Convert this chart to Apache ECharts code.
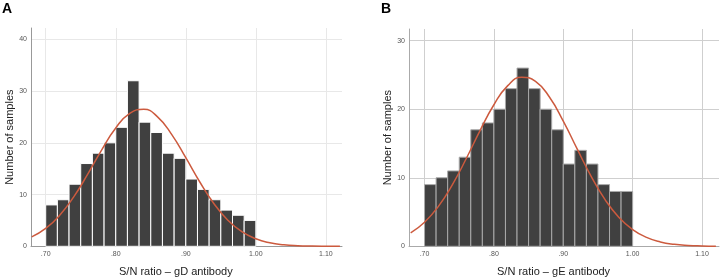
<!DOCTYPE html>
<html>
<head>
<meta charset="utf-8">
<script src="https://cdn.jsdelivr.net/npm/echarts@6/dist/echarts.min.js"></script>
<style>
  html, body { margin: 0; padding: 0; background: #fff; }
  #chart { width: 721px; height: 280px; }
</style>
</head>
<body>
<div id="chart"></div>
<script>
var myChart = echarts.init(document.getElementById('chart'));

// histogram bins: 18 bins from .70 to 1.00
var binStart = 0.70;
var binWidth = 0.30 / 18;
var countsGD = [8, 9, 12, 16, 18, 20, 23, 32, 24, 22, 18, 17, 13, 11, 9, 7, 6, 5];
var countsGE = [9, 10, 11, 13, 17, 18, 20, 23, 26, 23, 20, 17, 12, 14, 12, 9, 8, 8];

// fitted normal curves
var curveX  = [0.68, 0.70, 0.72, 0.74, 0.76, 0.78, 0.80, 0.82, 0.84, 0.86, 0.88, 0.90,
               0.92, 0.94, 0.96, 0.98, 1.00, 1.02, 1.04, 1.06, 1.08, 1.10, 1.12];
var curveGD = [1.82, 3.45, 6.00, 9.56, 13.95, 18.66, 22.88, 25.71, 26.47, 24.98, 21.6, 17.12,
               12.43, 8.27, 5.05, 2.82, 1.45, 0.68, 0.29, 0.11, 0.04, 0.01, 0.0];
var curveGE = [1.97, 3.52, 5.83, 8.97, 12.77, 16.87, 20.65, 23.44, 24.67, 24.07, 21.78, 18.26,
               14.2, 10.24, 6.84, 4.24, 2.44, 1.30, 0.64, 0.29, 0.12, 0.05, 0.02];

var xTickValues = [0.70, 0.80, 0.90, 1.00, 1.10];
var xTickLabels = ['.70', '.80', '.90', '1.00', '1.10'];
var yTicksGD = [0, 10, 20, 30, 40];
var yTicksGE = [0, 10, 20, 30];

function binData(counts) {
    return counts.map(function (c, i) {
        return [binStart + i * binWidth, binStart + (i + 1) * binWidth, c];
    });
}
function curveData(ys) {
    return curveX.map(function (x, i) { return [x, ys[i]]; });
}
function renderBar(borderColor) {
    return function (params, api) {
        var p0 = api.coord([api.value(0), api.value(2)]);
        var p1 = api.coord([api.value(1), 0]);
        return {
            type: 'rect',
            shape: { x: p0[0], y: p0[1], width: p1[0] - p0[0], height: p1[1] - p0[1] },
            style: { fill: '#404040', stroke: borderColor, lineWidth: 1 }
        };
    };
}
function xAxisFor(idx, min, max, gridColor, lineColor) {
    return {
        type: 'value', gridIndex: idx, min: min, max: max,
        axisLine: { lineStyle: { color: lineColor } },
        axisTick: { show: false, customValues: xTickValues },
        axisLabel: {
            customValues: xTickValues, fontSize: 7, color: '#555', margin: 4,
            formatter: function (v) { return xTickLabels[xTickValues.indexOf(Math.round(v * 100) / 100)]; }
        },
        splitLine: { show: true, lineStyle: { color: gridColor, width: 1 } }
    };
}
function yAxisFor(idx, max, ticks, gridColor, lineColor) {
    return {
        type: 'value', gridIndex: idx, min: 0, max: max,
        name: 'Number of samples', nameLocation: 'middle', nameGap: 16,
        nameTextStyle: { fontSize: 11, color: '#222', fontFamily: 'Liberation Sans' },
        axisLine: { show: true, lineStyle: { color: lineColor } },
        axisTick: { show: false, customValues: ticks },
        axisLabel: { customValues: ticks, fontSize: 7, color: '#555', margin: 4 },
        splitLine: { show: true, lineStyle: { color: gridColor, width: 1 } }
    };
}

var option = {
    animation: false,
    textStyle: { fontFamily: 'Liberation Sans' },
    title: [
        { text: 'A', left: 2, top: 2, padding: 0, textStyle: { fontSize: 14, fontWeight: 'bold', color: '#000' } },
        { text: 'B', left: 381, top: 2, padding: 0, textStyle: { fontSize: 14, fontWeight: 'bold', color: '#000' } }
    ],
    grid: [
        { left: 31, top: 28, width: 311, height: 218.3 },
        { left: 409, top: 29, width: 310, height: 217.3 }
    ],
    xAxis: [
        xAxisFor(0, 0.679, 1.123, '#e8e8e8', '#999'),
        xAxisFor(1, 0.6776, 1.1245, '#cfcfcf', '#aaa')
    ],
    yAxis: [
        yAxisFor(0, 42.2, yTicksGD, '#e8e8e8', '#999'),
        yAxisFor(1, 31.7, yTicksGE, '#cfcfcf', '#aaa')
    ],
    graphic: [
        { type: 'text', left: 119, top: 266, style: { text: 'S/N ratio \u2013 gD antibody', fontSize: 11, fill: '#222', fontFamily: 'Liberation Sans' } },
        { type: 'text', left: 497, top: 266, style: { text: 'S/N ratio \u2013 gE antibody', fontSize: 11, fill: '#222', fontFamily: 'Liberation Sans' } }
    ],
    series: [
        { type: 'custom', xAxisIndex: 0, yAxisIndex: 0, renderItem: renderBar('#ffffff'), data: binData(countsGD) },
        { type: 'custom', xAxisIndex: 1, yAxisIndex: 1, renderItem: renderBar('#aaaaaa'), data: binData(countsGE) },
        { type: 'line', xAxisIndex: 0, yAxisIndex: 0, smooth: true, showSymbol: false, data: curveData(curveGD),
          lineStyle: { color: '#cc5a3e', width: 1.5 } },
        { type: 'line', xAxisIndex: 1, yAxisIndex: 1, smooth: true, showSymbol: false, data: curveData(curveGE),
          lineStyle: { color: '#cc5a3e', width: 1.5 } }
    ]
};

myChart.setOption(option);
</script>
</body>
</html>
